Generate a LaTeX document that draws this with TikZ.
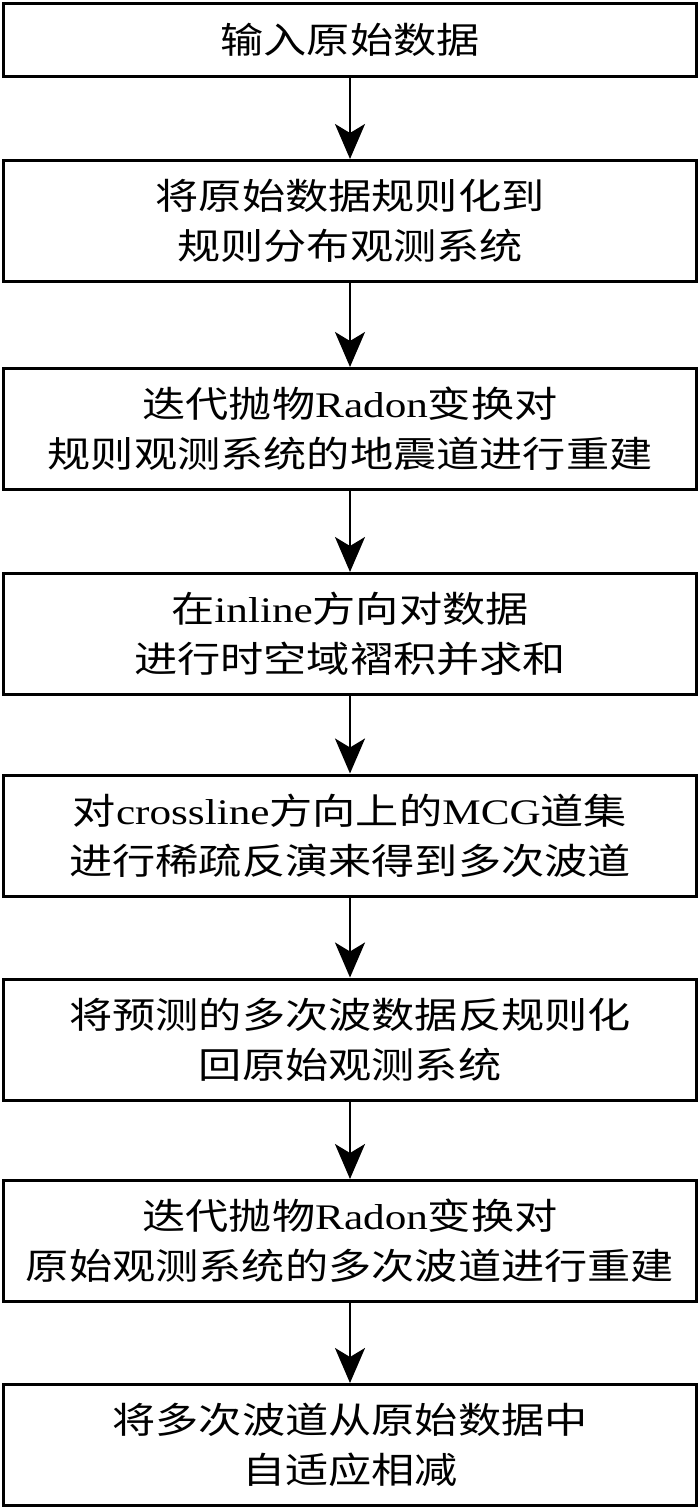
\documentclass[tikz,border=0pt]{standalone}
\usepackage{fontspec}
\setmainfont{Liberation Serif}[FakeStretch=1.2]
\newfontfamily\cjk{Noto Sans CJK SC}[FakeStretch=1.2]
\usetikzlibrary{arrows.meta}
\begin{document}
\begin{tikzpicture}[x=1pt,y=-1pt,
  stepbox/.style={draw=black, line width=3pt, minimum width=693pt, minimum height=121pt,
    inner sep=0pt, align=center, font=\fontsize{36pt}{50pt}\selectfont},
  flow/.style={line width=2.2pt, -{Stealth[length=35pt, width=30pt, inset=9pt]}}]
\useasboundingbox[fill=white] (0,0) rectangle (700,1509);
\node[stepbox, minimum height=73pt] (b1) at (350,40) {{\cjk 输入原始数据}};
\node[stepbox] (b2) at (350,221) {{\cjk 将原始数据规则化到}\\{\cjk 规则分布观测系统}};
\node[stepbox] (b3) at (350,429) {{\cjk 迭代抛物}Radon{\cjk 变换对}\\{\cjk 规则观测系统的地震道进行重建}};
\node[stepbox] (b4) at (350,634) {{\cjk 在}inline{\cjk 方向对数据}\\{\cjk 进行时空域褶积并求和}};
\node[stepbox] (b5) at (350,835.5) {{\cjk 对}crossline{\cjk 方向上的}MCG{\cjk 道集}\\{\cjk 进行稀疏反演来得到多次波道}};
\node[stepbox] (b6) at (350,1039.5) {{\cjk 将预测的多次波数据反规则化}\\{\cjk 回原始观测系统}};
\node[stepbox] (b7) at (350,1241) {{\cjk 迭代抛物}Radon{\cjk 变换对}\\{\cjk 原始观测系统的多次波道进行重建}};
\node[stepbox] (b8) at (350,1445) {{\cjk 将多次波道从原始数据中}\\{\cjk 自适应相减}};
\foreach \a/\b in {b1/b2,b2/b3,b3/b4,b4/b5,b5/b6,b6/b7,b7/b8}
  \draw[flow] (\a.south) -- (\b.north);
\end{tikzpicture}
\end{document}
